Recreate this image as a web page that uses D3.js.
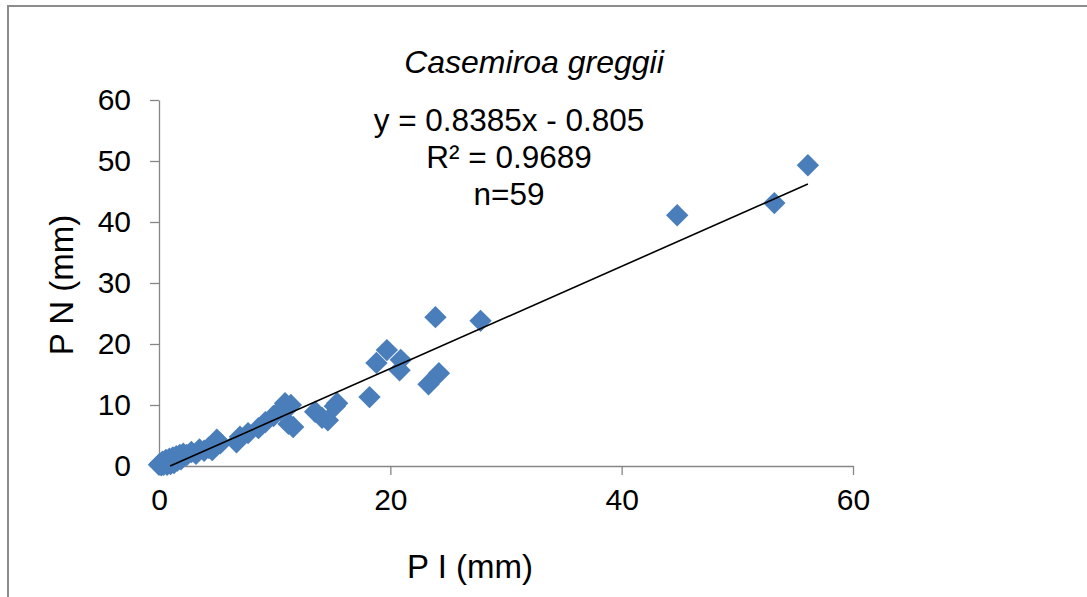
<!DOCTYPE html>
<html>
<head>
<meta charset="utf-8">
<script src="https://cdn.jsdelivr.net/npm/d3@7"></script>
<style>
  html, body { margin: 0; padding: 0; background: #fff; }
  svg { display: block; font-family: "Liberation Sans", Arial, sans-serif; }
</style>
</head>
<body>
<svg id="chart" width="1087" height="597"></svg>
<script>
// ---- data ----
const title = "Casemiroa greggii";
const xLabel = "P I (mm)";
const yLabel = "P N (mm)";
const xTicks = [0, 20, 40, 60];
const yTicks = [0, 10, 20, 30, 40, 50, 60];
const slope = 0.8385;
const intercept = -0.805;
const eqLines = ["y = 0.8385x - 0.805", "R² = 0.9689", "n=59"];

const pI = [
  0.0, 0.1, 0.2, 0.3, 0.4, 0.5, 0.6, 0.7, 0.8, 0.9, 1.0, 1.1, 1.2, 1.3, 1.4, 1.5, 1.6, 1.7, 1.8, 1.9, 2.0, 2.1,
  2.4, 2.8, 3.2, 3.5, 3.9, 4.3, 4.6, 5.0, 5.3,
  6.7, 7.0, 7.7, 8.6, 9.2, 9.9,
  10.5, 10.9, 11.4, 11.2, 11.6,
  13.5, 14.1, 14.6, 15.2, 15.4,
  18.2, 18.8, 19.7, 20.9, 20.8, 23.3, 24.2, 23.9, 27.8, 44.8, 53.2, 56.1
];
const pN = [
  0.2, 0.4, 0.1, 0.7, 0.2, 0.5, 1.0, 0.2, 0.6, 1.2, 0.3, 0.8, 1.4, 0.5, 1.0, 1.6, 0.9, 1.3, 1.8, 1.1, 1.5, 2.0,
  1.8, 2.3, 2.0, 2.7, 2.5, 3.0, 2.6, 4.3, 3.7,
  3.9, 4.8, 5.4, 6.2, 7.2, 8.2,
  9.2, 10.3, 10.0, 6.9, 6.4,
  8.9, 7.9, 7.5, 9.8, 10.3,
  11.3, 16.9, 19.0, 17.4, 15.7, 13.4, 15.2, 24.4, 23.8, 41.1, 43.1, 49.3
];

// ---- layout ----
const svg = d3.select("#chart");
const x = d3.scaleLinear().domain([0, 60]).range([159, 853]);
const y = d3.scaleLinear().domain([0, 60]).range([466, 100]);
const axisColor = "#868686";

// outer frame
svg.append("rect")
  .attr("x", 8).attr("y", 6).attr("width", 1200).attr("height", 700)
  .attr("fill", "#fff").attr("stroke", "#8c8c8c").attr("stroke-width", 2);

// axes
const gx = svg.append("g").attr("transform", `translate(0,${y(0)})`)
  .call(d3.axisBottom(x).tickValues(xTicks).tickSize(9).tickSizeOuter(0).tickPadding(14));
const gy = svg.append("g").attr("transform", `translate(${x(0)},0)`)
  .call(d3.axisLeft(y).tickValues(yTicks).tickSize(9).tickSizeOuter(0).tickPadding(19));
[gx, gy].forEach(g => {
  g.select(".domain").attr("stroke", axisColor).attr("stroke-width", 1.3);
  g.selectAll(".tick line").attr("stroke", axisColor).attr("stroke-width", 1.3);
  g.selectAll(".tick text").attr("fill", "#000").attr("font-size", 30)
    .attr("font-family", "'Liberation Sans', Arial, sans-serif");
});

// points
const pts = pI.map((v, i) => ({ x: v, y: pN[i] }));
const sym = d3.symbol().type(d3.symbolSquare).size(250);
svg.append("g").selectAll("path").data(pts).join("path")
  .attr("d", sym)
  .attr("transform", d => `translate(${x(d.x)},${y(d.y)}) rotate(45)`)
  .attr("fill", "#4a7ebb");

// trendline (clipped at y=0 as the axis minimum)
const xMax = d3.max(pI);
const xStart = Math.max(d3.min(pI), -intercept / slope);
svg.append("line")
  .attr("x1", x(xStart)).attr("y1", y(slope * xStart + intercept))
  .attr("x2", x(xMax)).attr("y2", y(slope * xMax + intercept))
  .attr("stroke", "#000").attr("stroke-width", 1.6);

// title
svg.append("text").attr("x", 534).attr("y", 73)
  .attr("text-anchor", "middle").attr("font-size", 32).attr("font-style", "italic")
  .text(title);

// equation block
svg.append("g").selectAll("text").data(eqLines).join("text")
  .attr("x", 509).attr("y", (d, i) => 131 + i * 37)
  .attr("text-anchor", "middle").attr("font-size", 31.5)
  .text(d => d);

// axis titles
svg.append("text").attr("x", 470).attr("y", 578)
  .attr("text-anchor", "middle").attr("font-size", 33).text(xLabel);
svg.append("text").attr("transform", "translate(73,285) rotate(-90)")
  .attr("text-anchor", "middle").attr("font-size", 33).text(yLabel);
</script>
</body>
</html>
